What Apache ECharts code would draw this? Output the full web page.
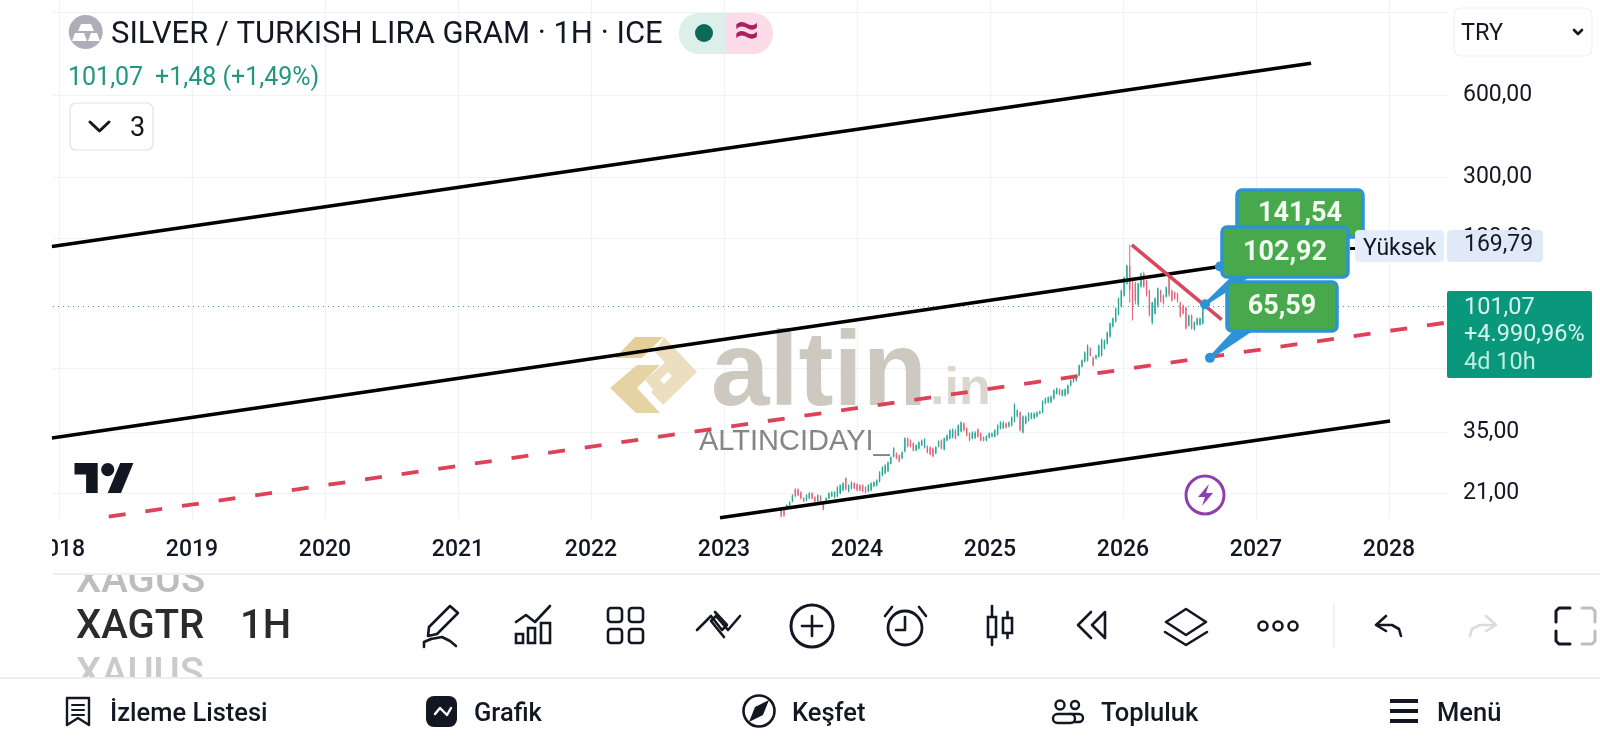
<!DOCTYPE html>
<html><head><meta charset="utf-8">
<style>html,body{margin:0;padding:0;background:#fff}#c{width:1600px;height:746px}</style>
<script src="https://cdn.jsdelivr.net/npm/echarts@6/dist/echarts.min.js"></script>
</head><body><div id="c"></div>
<script>
// ---- data ----
const yearTicks = [2018,2019,2020,2021,2022,2023,2024,2025,2026,2027,2028];
const priceGrid = [1200,600,300,180,60,35,21];
const priceLabels = [600,300,180,60,35,21];
const lastPrice = 101.07;
const highPrice = 169.79;
const firstBarYear = 2023.43, lastBarYear = 2026.60;
// each row: open, high, low, close
const ohlcBars = [
[18.5,18.66,17.16,17.3],[18.3,18.66,17.16,17.45],[18.5,19.13,18.35,19.0],[18.8,19.62,18.66,19.45],[19.6,20.81,19.46,20.6],
[21.7,21.88,20.29,20.5],[21.7,21.88,20.46,20.63],[21.16,21.34,19.95,20.12],[20.12,20.29,19.46,19.62],[19.78,20.81,19.62,20.63],
[20.12,21.16,19.95,20.98],[20.98,21.16,19.95,20.12],[20.29,20.46,19.46,19.62],[19.62,20.81,19.46,20.63],[20.46,20.63,19.13,19.29],
[19.46,19.62,18.19,18.35],[19.62,20.29,19.46,20.12],[20.12,21.16,19.95,20.98],[20.46,21.34,20.29,21.16],[20.3,21.34,20.12,21.16],
[20.46,22.25,20.29,22.07],[20.98,22.63,20.81,22.44],[21.52,23.01,21.34,22.82],[23.8,24.0,21.52,21.7],[21.34,22.63,21.16,22.44],
[21.88,23.21,21.7,23.01],[22.82,23.01,21.7,21.88],[22.63,22.82,21.34,21.52],[22.44,22.63,21.34,21.52],[22.44,22.63,21.16,21.34],
[22.07,22.25,20.98,21.16],[21.34,22.63,21.16,22.44],[21.52,23.01,21.34,22.82],[22.25,23.21,22.07,23.01],[22.44,23.6,22.25,23.4],
[23.2,25.25,23.01,25.04],[24.4,26.33,24.2,26.1],[24.83,26.77,24.62,26.55],[25.25,27.46,25.04,27.2],[26.9,28.63,26.77,28.39],
[28.63,30.88,28.39,30.62],[29.36,29.6,27.92,28.15],[28.88,29.1,27.23,27.46],[28.15,29.86,27.92,29.6],[29.86,33.59,29.6,33.3],
[33.3,33.59,30.88,31.15],[32.75,33.03,30.88,31.15],[31.94,32.2,29.86,30.1],[30.1,31.67,29.86,31.41],[30.62,32.48,30.37,32.2],
[31.41,33.03,31.15,32.75],[30.88,33.3,30.62,33.03],[31.15,31.41,29.36,29.6],[30.9,31.15,28.88,29.1],[30.62,30.88,28.39,28.63],
[29.36,31.15,29.1,30.88],[31.15,32.75,30.88,32.48],[32.75,33.03,30.37,30.62],[30.37,33.59,30.1,33.3],[32.75,34.45,32.48,34.16],
[33.3,35.93,33.03,35.63],[33.59,36.2,33.3,35.93],[35.63,35.93,33.03,33.3],[34.16,37.47,33.87,37.16],[35.33,38.43,35.03,38.1],
[37.79,38.1,35.33,35.63],[36.23,36.54,33.87,34.16],[34.74,35.03,32.48,32.75],[33.3,35.33,33.03,35.03],[33.5,35.4,33.1,35.0],
[35.93,36.23,33.59,33.87],[34.74,35.03,32.48,32.75],[33.59,33.87,32.48,32.75],[32.75,34.16,32.48,33.87],[33.59,35.03,33.3,34.74],
[33.87,35.03,33.59,34.74],[33.87,35.93,33.59,35.63],[34.45,37.47,34.16,37.16],[36.23,38.43,35.93,38.1],[36.3,38.5,36.0,38.0],
[37.79,38.1,36.23,36.54],[36.85,38.43,36.54,38.1],[37.16,40.07,36.85,39.74],[38.43,44.7,38.1,44.3],[40.07,42.5,39.74,42.15],
[41.45,41.8,35.33,35.63],[35.03,40.41,34.74,40.07],[37.79,40.41,37.47,40.07],[38.75,41.45,38.43,41.1],[39.4,41.45,39.08,41.1],
[39.5,41.5,39.1,41.0],[40.07,41.8,39.74,41.45],[41.1,42.15,40.75,41.8],[41.45,45.85,41.1,45.5],[44.7,47.0,44.35,46.6],
[45.1,47.4,44.7,47.0],[45.1,47.8,44.7,47.4],[46.6,50.3,46.2,49.9],[48.6,51.1,48.2,50.7],[50.3,50.7,47.8,48.2],
[47.8,50.3,47.4,49.9],[47.8,50.7,47.4,50.3],[48.6,52.45,48.2,52.0],[51.95,54.7,51.55,54.25],[53.8,56.1,53.35,55.6],
[54.25,57.05,53.8,56.6],[56.6,62.05,56.1,61.5],[61.05,64.7,60.5,64.15],[63.6,69.2,63.1,68.6],[64.15,73.4,63.6,72.8],
[71,71.6,66.35,66.9],[65.8,66.35,61.05,61.5],[65.25,67.5,64.7,66.9],[66.35,73.4,65.8,72.8],[66.9,77.15,66.35,76.5],
[71,76.5,70.4,75.9],[74,81.9,73.4,81.2],[78.5,88.35,77.8,87.6],[85.4,92.1,84.7,91.3],[89.1,100.2,88.35,99.35],
[94.5,108.9,93.7,108],[101,116.5,100.2,115.5],[110.8,129.9,109.85,128.8],[122.5,143.7,121.5,142.5],[142,169.79,104.45,116.5],
[116.5,128.8,89.8,98.5],[122.5,124.6,102.75,106.2],[102.75,123.55,101.05,122.5],[119.5,134.35,118.5,133.2],[133.2,135.5,118.5,119.5],
[125.6,126.7,109.85,111.7],[115.5,116.5,92.9,94.5],[88.35,105.3,86.85,104.45],[95.3,108.9,94.5,108],[101.9,118.5,100.2,117.5],
[115.5,116.5,104.45,106.2],[110.8,111.7,102.75,103.6],[109.85,119.5,108.9,118.5],[131,132.1,109.85,111.7],[115.5,116.5,105.3,106.2],
[113.55,114.5,107.1,108],[112.6,113.55,104.45,106.2],[104.45,105.3,92.1,92.9],[101.9,102.75,94.5,95.3],[100.2,101.05,83.3,84],
[86.1,94.5,85.4,93.7],[93.7,94.5,83.3,84],[83.3,89.1,82.6,88.35],[86.85,92.1,86.1,91.3],[86.5,92,86.1,91.5],[87.5,102.9,86.85,101.07]
];
const channelUpper = [[2017.947,167.3],[2027.414,783]];
const channelMiddle = [[2017.947,33.4],[2026.729,141.54]];
const channelLower = [[2022.97,17.09],[2028.008,38.56]];
const redDashed = [[2018.374,17.25],[2028.436,88.3]];
const redSolid = [[2026.066,169.79],[2026.742,90.5]];
const calloutYears = [2026.729,2026.617,2026.654];
const calloutPrices = [141.54,102.92,65.59];
// ---- presentation ----
const calloutBoxes = [
 {x:1237,y:190,w:126,h:47,t1:[1250,232],t2:[1262,232]},
 {x:1222,y:227,w:126,h:50,t1:[1233,277],t2:[1247,277]},
 {x:1227,y:282,w:110,h:49,t1:[1235,331],t2:[1250,331]}
];
const comma = v => v.toFixed(2).replace('.',',');
const FONT = 'Roboto';
const INK = '#131722';
const E = [];
const DY = 4;
const add = (o,z=30) => { o.z = z; o.silent = true; E.push(o); };
const T = (text,x,y,size,fill=INK,weight=400,z=30,align='left',family=FONT) =>
  add({type:'text',style:{text,x,y:y+DY,fill,font:`${weight} ${size}px ${family}`,align,verticalAlign:'middle'}},z);
const R = (x,y,w,h,fill,r=0,stroke=null,lw=1,z=30) =>
  add({type:'rect',shape:{x,y,width:w,height:h,r},style:{fill,stroke,lineWidth:lw}},z);
const PL = (pts,stroke=INK,lw=2.6,z=30) =>
  add({type:'polyline',shape:{points:pts},style:{stroke,lineWidth:lw,fill:null,lineCap:'round',lineJoin:'round'}},z);
const PG = (pts,fill,z=30,stroke=null,lw=0) =>
  add({type:'polygon',shape:{points:pts},style:{fill,stroke,lineWidth:lw,lineJoin:'round'}},z);
const C = (cx,cy,r,fill,stroke=null,lw=2.6,z=30) =>
  add({type:'circle',shape:{cx,cy,r},style:{fill,stroke,lineWidth:lw}},z);

// watermark (under the series)
PG([[615,358],[635,337],[663,337],[642,358]],'#e4cf9b',1);
PG([[637,365],[660,365],[637,388],[660,413],[636,413],[610,388]],'#e6d3a4',1);
PG([[664,337],[697,372],[663,405],[651,392],[674,372],[655,352]],'#ecdfc0',1);
PG([[645,380],[668,360],[677,370],[655,392]],'#ecdfc0',1);
PG([[660,380],[668,372],[672,376],[664,384]],'#ffffff',1);
T('altin',711,372,105,'#cdc9c0',700,1,'left','Liberation Sans');
T('.in',930,386,52,'#dbd7cf',700,1,'left','Liberation Sans');
T('ALTINCIDAYI_',699,438,29,'#858585',400,3,'left','Liberation Sans');
// TradingView mark + bolt
PG([[74.5,463],[97.7,463],[97.7,493],[86.1,493],[86.1,474.6],[74.5,474.6]],'#131722',3);
C(107.7,469.6,6.6,'#131722',null,0,3);
PG([[121,493],[107.7,493],[120.2,463],[133.4,463]],'#131722',3);
C(1205,495,19,'#fff','#8e3fae',3,3);
PG([[1209,484],[1198,497],[1205,497],[1202,506],[1213,493],[1206,493]],'#8e3fae',3);

// mask of the clipped 2018 label
R(0,520,52,50,'#fff');
// header
C(85.7,32,17,'#aeadb8');
PG([[81,24],[91,24],[94,31],[78,31]],'#fff');
PG([[72,41],[75,33],[84,33],[87,41]],'#fff');
PG([[88,41],[91,33],[97,33],[100,41]],'#fff');
T('SILVER / TURKISH LIRA GRAM · 1H · ICE',111,31,31);
add({type:'rect',shape:{x:679,y:13,width:60,height:41,r:[20,0,0,20]},style:{fill:'#dcefea'}});
add({type:'rect',shape:{x:726,y:13,width:47,height:41,r:[0,20,20,0]},style:{fill:'#fbdce8'}});
C(704,33,9,'#0b6b57');
T('≈',747,29,44,'#a8205e',700,30,'center');
T('101,07',68,75,25,'#22977f');
T('+1,48 (+1,49%)',155,75,25,'#22977f');
R(70,103,83,47,'#fff',6,'#dfe1e6',1.2);
PL([[90,122],[99.5,131],[109,122]],INK,3);
T('3',130,125,27);
// currency button
R(1454,8,138,48,'#fff',7,'#eeeff2',1.2);
T('TRY',1461,30,23.5);
PL([[1574,30],[1578,34],[1582,30]],INK,2.6);
// high tag
PG([[1350,247],[1355,247],[1355,250],[1350,250]],'#000',20);
R(1355,230,89,32,'#e3edfb',4,null,0,20);
R(1447,230,96,32,'#dfe9f8',4,null,0,20);
T('Yüksek',1363,245,23,INK,400,21);
T(comma(highPrice),1464,241,23,INK,400,21);
// last price tag
R(1447,291,145,87,'#0a987c',2,null,0,20);
T(comma(lastPrice),1464,304,23.5,'#d6f5ee',400,21);
T('+4.990,96%',1464,331,23.5,'#d6f5ee',400,21);
T('4d 10h',1464,359,23.5,'#bfeee3',400,21);
// ticker wheel
T('XAGUS',76,578,40,'#bdbdbd',500,28);
R(60,556,160,19,'#fff',0,null,0,29);
T('XAGTR',76,624,40,'#2b2b2b',500);
T('1H',240,624,40,'#2b2b2b',500);
T('XAUUS',76,672,40,'#cacaca',500,28);
R(60,678,160,20,'#fff',0,null,0,29);
// separators
add({type:'line',shape:{x1:53,y1:574,x2:1600,y2:574},style:{stroke:'#eeeeee',lineWidth:2}});
add({type:'line',shape:{x1:0,y1:678,x2:1600,y2:678},style:{stroke:'#eeeeee',lineWidth:2}});
add({type:'line',shape:{x1:1334,y1:603,x2:1334,y2:648},style:{stroke:'#eeeeee',lineWidth:1.5}});
// toolbar icons
PG([[429,627],[450,606],[458,613],[437,634],[428,636]],'#fff',30,INK,2.6);
PL([[431,639],[424,642],[424,647]]);PL([[431,639],[442,637],[450,641],[456,646]]);
PL([[516,622],[526,615],[535,622],[550,606]]);
R(516,634,7,9,'#fff',0,INK,2.6);R(528,628,7,15,'#fff',0,INK,2.6);R(541,623,9,20,'#fff',0,INK,2.6);
[[608,608],[629,608],[608,629],[629,629]].forEach(p=>R(p[0],p[1],14,14,'#fff',3,INK,2.6));
PL([[697,630],[711,616],[722,630],[727,625],[715,612]]);PL([[740,616],[728,630],[716,616],[711,621],[724,637]]);
C(812,626,21,'#fff',INK,3);PL([[802,626],[822,626]]);PL([[812,616],[812,636]]);
C(905,628,17,'#fff',INK,2.8);PL([[905,617],[905,630],[896,630]]);PL([[885,616],[892,607]]);PL([[926,616],[919,607]]);
R(988,617,8,20,'#fff',0,INK,2.6);PL([[992,606],[992,617]]);PL([[992,637],[992,645]]);
R(1003,618,9,15,'#fff',0,INK,2.6);PL([[1007.5,612],[1007.5,618]]);PL([[1007.5,633],[1007.5,638]]);
PL([[1091,612],[1078,625],[1091,638]]);PG([[1105,612],[1092,625],[1105,638]],'#fff',30,INK,2.6);
PG([[1186,609],[1206,622],[1186,635],[1166,622]],'#fff',30,INK,2.6);PL([[1165,632],[1186,645],[1207,632]]);
[1263,1278,1293].forEach(x=>C(x,626,4.5,'#fff',INK,2.6));
PL([[1386,616],[1376,625],[1386,631]]);PL([[1377,625],[1392,625],[1399,629],[1401,636]]);
PL([[1486,616],[1496,625],[1486,631]],'#dcdcdc');PL([[1495,625],[1480,625],[1472,629],[1470,636]],'#dcdcdc');
PL([[1570,608],[1559,608],[1556,611],[1556,622]],INK,3);PL([[1556,631],[1556,641],[1559,644],[1570,644]],INK,3);
PL([[1582,608],[1592,608],[1595,611],[1595,622]],'#bdbdbd',3);PL([[1595,631],[1595,641],[1592,644],[1582,644]],'#bdbdbd',3);
// bottom navigation
PG([[67,698],[89,698],[89,725],[78,718],[67,725]],'#fff',30,INK,2.4);
PL([[72,705],[84,705]],INK,2);PL([[72,710],[84,710]],INK,2);PL([[72,715],[84,715]],INK,2);
T('İzleme Listesi',110,711,25.5,INK,500);
R(426,696,31,31,'#131722',8);
PL([[435,714],[440,708],[447,715],[451,708]],'#fff',2.4);
T('Grafik',474,711,25.5,INK,500);
C(759,711,15.5,'#fff',INK,2.6);
PG([[769,700],[763,715],[749,722],[755,707]],'#131722');
T('Keşfet',792,711,25.5,INK,500);
C(1060,705,4.5,'#fff',INK,2.4);C(1075,705,4,'#fff',INK,2.4);
R(1066,714,17,8,'#fff',4,INK,2.4);R(1053,714,22,9,'#fff',4.5,INK,2.4);
T('Topluluk',1101,711,25.5,INK,500);
R(1390,699,28,4,INK);R(1390,709,28,4,INK);R(1390,719,28,4,INK);
T('Menü',1437,711,25.5,INK,500);

// ---- chart ----
const GREEN='#2aa896', RED='#e0677c', LEFT=53, RIGHT_X=1447, BOTTOM_Y=519;
const barStep = (lastBarYear-firstBarYear)/(ohlcBars.length-1);
const barRows = ohlcBars.map((b,i)=>[firstBarYear+i*barStep,b[0],b[1],b[2],b[3]]);
const trend = (name,data,color,width,dash) => ({
  type:'line',name,data,symbol:'none',silent:true,z:4,animation:false,
  lineStyle:{color,width,type:dash||'solid',cap:'butt'}
});
const chart = echarts.init(document.getElementById('c'),null,{renderer:'canvas'});
chart.setOption({
  animation:false, backgroundColor:'#fff',
  grid:{left:LEFT,top:0,width:RIGHT_X-LEFT,height:BOTTOM_Y,show:false},
  xAxis:{type:'value',min:2017.955,max:2028.436,
    axisLine:{show:false},
    axisTick:{show:false,customValues:yearTicks},
    axisLabel:{customValues:yearTicks,formatter:v=>String(Math.round(v)),color:INK,fontFamily:FONT,fontSize:23,fontWeight:500,margin:20,hideOverlap:false},
    splitLine:{show:true,lineStyle:{color:'#f1f2f5',width:1.2}}},
  yAxis:{type:'log',logBase:10,position:'right',min:16.9,max:1333,
    axisLine:{show:false},
    axisTick:{show:false,customValues:priceGrid},
    axisLabel:{customValues:priceLabels,formatter:v=>comma(v),color:INK,fontFamily:FONT,fontSize:23,margin:16,padding:[0,0,0,0],hideOverlap:false},
    splitLine:{show:true,lineStyle:{color:'#f1f2f5',width:1.2}}},
  graphic:{elements:E},
  series:[
    {type:'custom',name:'XAGTR',data:barRows,clip:true,z:3,silent:true,animation:false,
     encode:{x:0,y:[1,2,3,4]},
     renderItem:(p,api)=>{
       const x=api.value(0),o=api.value(1),h=api.value(2),l=api.value(3),c=api.value(4);
       const col=c>=o?GREEN:RED;
       const ph=api.coord([x,h]),pl=api.coord([x,l]),po=api.coord([x,o]),pc=api.coord([x,c]);
       return {type:'group',children:[
         {type:'line',shape:{x1:ph[0],y1:ph[1],x2:pl[0],y2:pl[1]},style:{stroke:col,lineWidth:1}},
         {type:'rect',shape:{x:ph[0]-.7,y:Math.min(po[1],pc[1]),width:1.4,height:Math.abs(po[1]-pc[1])},style:{fill:col}}
       ]};
     }},
    trend('upper',channelUpper,'#000',3.5),
    trend('middle',channelMiddle,'#000',3.5),
    trend('lower',channelLower,'#000',3.5),
    trend('support',redDashed,'#dd4259',3.8,[17,20]),
    trend('resistance',redSolid,'#d9475c',3.6),
    {type:'line',name:'last',data:[[2017.955,lastPrice],[2028.436,lastPrice]],symbol:'none',silent:true,z:3,animation:false,
     lineStyle:{color:'#3f9c8c',width:1.1,type:[1,4]}},
    {type:'custom',name:'callouts',z:10,silent:true,clip:false,animation:false,
     data:calloutYears.map((y,i)=>[y,calloutPrices[i]]),encode:{x:0,y:1},
     renderItem:(p,api)=>{
       const i=p.dataIndex,b=calloutBoxes[i],a=api.coord([api.value(0),api.value(1)]);
       return {type:'group',children:[
         {type:'polygon',shape:{points:[a,b.t1,b.t2]},style:{fill:'#2e93d6',stroke:'#2e93d6',lineWidth:3,lineJoin:'round'}},
         {type:'circle',shape:{cx:a[0],cy:a[1],r:5},style:{fill:'#2e93d6'}},
         {type:'rect',shape:{x:b.x,y:b.y,width:b.w,height:b.h,r:5},style:{fill:'#47a94b',stroke:'#2e93d6',lineWidth:3.5}},
         {type:'text',style:{text:comma(api.value(1)),x:b.x+b.w/2,y:b.y+b.h/2+1,fill:'#f4fbf2',font:'700 27px Roboto',align:'center',verticalAlign:'middle'}}
       ]};
     }}
  ]
});
</script></body></html>
